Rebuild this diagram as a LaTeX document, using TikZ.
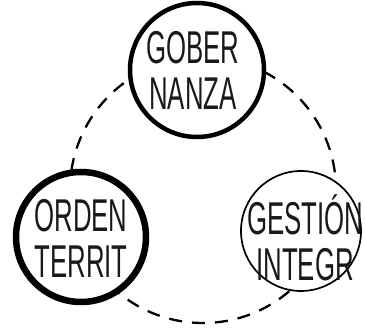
\documentclass[tikz,border=0pt]{standalone}
\usepackage{fontspec}
\newfontfamily\condfont[FakeStretch=0.56]{Liberation Sans}
\begin{document}
\begin{tikzpicture}[x=1pt,y=-1pt,
  ring/.style={draw=black, line width=2.3pt, dash pattern=on 13pt off 10pt},
  circ/.style={circle, draw=black, fill=white, inner sep=0pt},
  lbl/.style={align=center, inner sep=0pt, font=\condfont\fontsize{46}{46}\selectfont, text=black!90}
]
\useasboundingbox (0,0) rectangle (365,328);
\coordinate (ringc) at (203,190);
\draw[ring] (ringc) circle (133);
\node[circ, line width=4.5pt, minimum size=134pt] (gob) at (197,70) {};
\node[circ, line width=6.5pt, minimum size=130pt] (ord) at (81,237) {};
\node[circ, line width=1.7pt, minimum size=120pt] (ges) at (301,231) {};
\node[lbl] (gobt) at (193,70) {GOBER\\NANZA};
\node[lbl] (ordt) at (81,238) {ORDEN\\TERRIT};
\node[lbl] (gest) at (305,238) {GESTIÓN\\INTEGR};
\end{tikzpicture}
\end{document}
